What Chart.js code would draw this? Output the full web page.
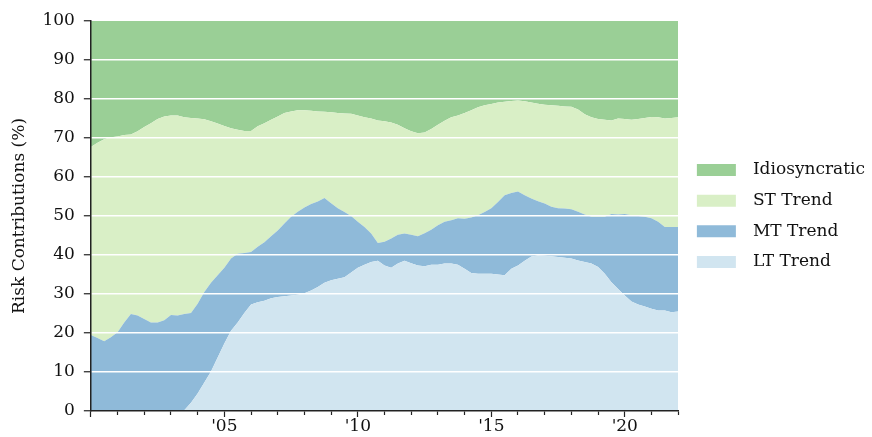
<!DOCTYPE html>
<html>
<head>
<meta charset="utf-8">
<script src="https://cdn.jsdelivr.net/npm/chart.js@4.4.1/dist/chart.umd.min.js"></script>
<style>
  html, body { margin: 0; padding: 0; background: #fff; }
</style>
</head>
<body>
<canvas id="riskChart" width="872" height="437"></canvas>
<script>
  // quarterly observation dates (decimal years)
  const dates = [
    2000, 2000.25, 2000.5, 2000.75, 2001, 2001.25, 2001.5, 2001.75,
    2002, 2002.25, 2002.5, 2002.75, 2003, 2003.25, 2003.5, 2003.75,
    2004, 2004.25, 2004.5, 2004.75, 2005, 2005.25, 2005.5, 2005.75,
    2006, 2006.25, 2006.5, 2006.75, 2007, 2007.25, 2007.5, 2007.75,
    2008, 2008.25, 2008.5, 2008.75, 2009, 2009.25, 2009.5, 2009.75,
    2010, 2010.25, 2010.5, 2010.75, 2011, 2011.25, 2011.5, 2011.75,
    2012, 2012.25, 2012.5, 2012.75, 2013, 2013.25, 2013.5, 2013.75,
    2014, 2014.25, 2014.5, 2014.75, 2015, 2015.25, 2015.5, 2015.75,
    2016, 2016.25, 2016.5, 2016.75, 2017, 2017.25, 2017.5, 2017.75,
    2018, 2018.25, 2018.5, 2018.75, 2019, 2019.25, 2019.5, 2019.75,
    2020, 2020.25, 2020.5, 2020.75, 2021, 2021.25, 2021.5, 2021.75,
    2022
  ];

  // risk contributions in percent, bottom of the stack first
  const ltTrend = [
    0, 0, 0, 0, 0, 0, 0, 0, 0, 0, 0, 0, 0, 0, 0.2, 2.1,
    4.5, 7.3, 10.1, 13.7, 17.3, 20.6, 22.7, 25.1, 27.3, 27.9, 28.3, 28.9,
    29.2, 29.4, 29.6, 29.8, 30.2, 30.9, 31.8, 32.9, 33.5, 33.9, 34.3, 35.5,
    36.7, 37.5, 38.2, 38.5, 37.3, 36.7, 37.8, 38.5, 37.9, 37.3, 37.1, 37.5,
    37.5, 37.8, 37.8, 37.5, 36.5, 35.4, 35.2, 35.2, 35.2, 35.0, 34.8, 36.5,
    37.3, 38.5, 39.6, 39.9, 39.8, 39.7, 39.5, 39.3, 39.1, 38.6, 38.2, 37.8,
    36.9, 35.2, 33.0, 31.3, 29.6, 28.1, 27.3, 26.8, 26.2, 25.8, 25.8, 25.3,
    25.5
  ];
  const mtTrend = [
    19.5, 18.7, 17.9, 18.9, 20.2, 22.7, 24.9, 24.5, 23.6, 22.7, 22.7, 23.3,
    24.6, 24.5, 24.7, 23.0, 23.0, 23.2, 22.8, 21.1, 19.4, 18.5, 17.6, 15.4,
    13.5, 14.2, 15.0, 15.9, 17.1, 18.7, 20.2, 21.3, 22.0, 22.2, 21.9, 21.7,
    19.8, 18.1, 16.7, 14.5, 11.8, 9.7, 7.3, 4.6, 6.1, 7.5, 7.4, 7.0,
    7.3, 7.5, 8.5, 9.0, 10.1, 10.7, 11.1, 11.9, 12.8, 14.2, 15.0, 15.8,
    16.8, 18.6, 20.5, 19.4, 19.0, 16.8, 14.9, 13.9, 13.4, 12.7, 12.5, 12.6,
    12.6, 12.5, 12.2, 12.0, 12.9, 14.6, 17.5, 19.1, 20.9, 22.1, 22.7, 23.0,
    23.2, 22.7, 21.4, 21.9, 21.7
  ];
  const stTrend = [
    48.2, 50.1, 51.8, 51.3, 50.2, 48.1, 46.0, 47.2, 49.2, 51.1, 52.2, 52.2,
    51.2, 51.3, 50.4, 50.0, 47.5, 44.3, 41.4, 38.9, 36.4, 33.4, 31.8, 31.3,
    31.0, 30.9, 30.5, 29.9, 29.2, 28.3, 27.0, 26.0, 24.9, 23.9, 23.1, 22.1,
    23.3, 24.4, 25.3, 26.2, 27.3, 28.1, 29.5, 31.4, 30.9, 29.8, 28.2, 27.0,
    26.5, 26.4, 25.8, 25.8, 25.8, 25.9, 26.4, 26.4, 27.1, 27.5, 27.7, 27.4,
    26.7, 25.5, 24.0, 23.6, 23.3, 24.1, 24.6, 25.0, 25.3, 26.0, 26.3, 26.2,
    26.3, 26.2, 25.7, 25.5, 25.1, 24.9, 24.0, 24.6, 24.4, 24.5, 24.9, 25.3,
    26.0, 26.8, 27.8, 27.9, 28.1
  ];
  const idiosyncratic = [
    32.3, 31.2, 30.3, 29.8, 29.6, 29.2, 29.1, 28.3, 27.2, 26.2, 25.1, 24.5,
    24.2, 24.2, 24.7, 24.9, 25.0, 25.2, 25.7, 26.3, 26.9, 27.5, 27.9, 28.2,
    28.2, 27.0, 26.2, 25.3, 24.5, 23.6, 23.2, 22.9, 22.9, 23.0, 23.2, 23.3,
    23.4, 23.6, 23.7, 23.8, 24.2, 24.7, 25.0, 25.5, 25.7, 26.0, 26.6, 27.5,
    28.3, 28.8, 28.6, 27.7, 26.6, 25.6, 24.7, 24.2, 23.6, 22.9, 22.1, 21.6,
    21.3, 20.9, 20.7, 20.5, 20.4, 20.6, 20.9, 21.2, 21.5, 21.6, 21.7, 21.9,
    22.0, 22.7, 23.9, 24.7, 25.1, 25.3, 25.5, 25.0, 25.1, 25.3, 25.1, 24.9,
    24.6, 24.7, 25.0, 24.9, 24.7
  ];

  const seriesNames = ['LT Trend', 'MT Trend', 'ST Trend', 'Idiosyncratic'];
  const seriesColors = ['#d1e5f0', '#8fbad9', '#d9efc6', '#9acf96'];
  const labelYears = [2005, 2010, 2015, 2020];

  const toPoints = (vals) => dates.map((d, i) => ({ x: d, y: vals[i] }));
  const allSeries = [ltTrend, mtTrend, stTrend, idiosyncratic];

  const datasets = allSeries.map((vals, i) => ({
    label: seriesNames[i],
    data: toPoints(vals),
    backgroundColor: seriesColors[i],
    borderColor: seriesColors[i],
    borderWidth: 0,
    pointRadius: 0,
    tension: 0,
    fill: i === 0 ? 'origin' : '-1'
  }));

  Chart.defaults.font.family = "'DejaVu Serif', serif";
  Chart.defaults.font.size = 17;
  Chart.defaults.color = '#111';

  const axisColor = '#222';

  new Chart(document.getElementById('riskChart'), {
    type: 'line',
    data: { datasets },
    options: {
      responsive: false,
      animation: false,
      events: [],
      layout: { padding: { top: 21, left: 5, right: -3, bottom: 0 } },
      plugins: {
        tooltip: { enabled: false },
        legend: {
          position: 'right',
          fullSize: false,
          reverse: true,
          maxWidth: 220,
          labels: {
            boxWidth: 39,
            boxHeight: 12,
            padding: 13.7,
            color: '#111',
            generateLabels: (chart) => {
              const items = Chart.defaults.plugins.legend.labels.generateLabels(chart);
              return items.map(it => Object.assign(it, { text: '\u2002' + it.text, lineWidth: 0 }));
            }
          }
        }
      },
      scales: {
        x: {
          type: 'linear',
          min: 2000,
          max: 2022,
          grid: {
            drawOnChartArea: false,
            drawTicks: true,
            tickLength: 6,
            tickColor: axisColor,
            tickWidth: 1.2,
            tickBorderDash: (ctx) => (ctx.tick && ctx.tick.value % 5 === 0) ? [] : [3.5, 10]
          },
          border: { display: true, color: axisColor, width: 1.5, z: 2 },
          ticks: {
            stepSize: 1,
            autoSkip: false,
            maxRotation: 0,
            padding: 1.5,
            font: { lineHeight: 1 },
            callback: (v) => labelYears.includes(v) ? "'" + String(v).slice(2) : ''
          }
        },
        y: {
          stacked: true,
          min: 0,
          max: 100,
          grid: {
            color: (ctx) => (ctx.tick.value === 0 || ctx.tick.value === 100) ? 'rgba(255,255,255,0)' : '#ffffff',
            lineWidth: 1.5,
            tickLength: 7,
            tickColor: axisColor,
            tickWidth: 1.2,
            z: 1
          },
          border: { display: true, color: axisColor, width: 1.5, z: 2 },
          ticks: { stepSize: 10, padding: 9 },
          title: {
            display: true,
            text: 'Risk Contributions (%)',
            padding: { top: 4, bottom: 4 }
          }
        },
        // narrow empty axis that keeps the legend clear of the plot
        ySpacer: {
          position: 'right',
          display: true,
          grid: { display: false },
          border: { display: false },
          ticks: { display: false },
          afterFit: (scale) => { scale.width = 5; }
        }
      }
    }
  });
</script>
</body>
</html>
